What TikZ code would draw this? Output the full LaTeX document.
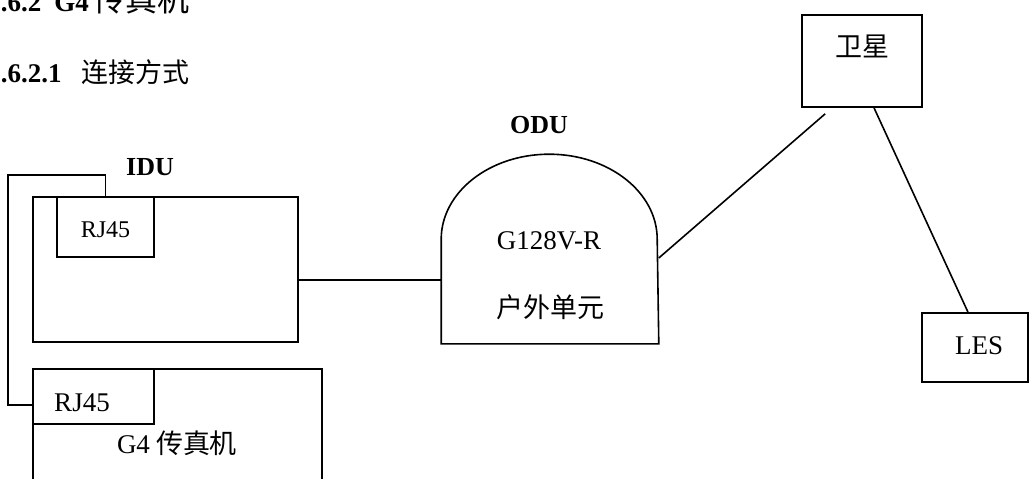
\documentclass[tikz,border=0pt]{standalone}
\usepackage{fontspec}
\setmainfont{Liberation Serif}
\newfontfamily\cjk{Noto Sans CJK SC}
\usetikzlibrary{calc}

\begin{document}
\begin{tikzpicture}[x=1pt, y=-1pt, line width=1.6pt,
  box/.style={draw, rectangle, inner sep=0pt},
  zone/.style={rectangle, inner sep=0pt},
  lbl/.style={inner sep=0pt, font=\fontsize{27}{32}\selectfont},
  small/.style={inner sep=0pt, font=\fontsize{24}{28}\selectfont},
  title/.style={inner sep=0pt, font=\fontsize{26}{32}\selectfont\bfseries},
  heading/.style={anchor=west, inner sep=0pt, font=\fontsize{27}{32}\selectfont}]
\useasboundingbox (0,0) rectangle (1029,479);
\clip (0,0) rectangle (1029,479);

% section headings
\node[heading] (h1) at (-13.5,-1) {\textbf{6.6.2}\hspace{13pt}\textbf{G4}\hspace{5pt}{\cjk\fontsize{32}{36}\selectfont 传真机}};
\node[heading] (h2) at (-13.5,72) {\textbf{6.6.2.1}\hspace{20pt}{\cjk 连接方式}};

% indoor unit with its RJ45 port
\node[box, minimum width=265pt, minimum height=145pt] (idu) at (165.5,269.5) {};
\node[box, minimum width=97pt, minimum height=60pt] (rjA) at (105.5,227) {};
\node[small] (rjAtext) at ([yshift=-2.5pt]rjA.center) {RJ45};
\node[title] (idutitle) at (150,167) {IDU};

% G4 fax machine with its RJ45 port
\node[box, minimum width=289pt, minimum height=130pt] (fax) at (177.5,434) {};
\node[box, minimum width=121pt, minimum height=55pt] (rjB) at (93.5,396.5) {};
\node[lbl] (rjBtext) at (82,402.5) {RJ45};
\node[lbl] (faxtext) at (177,443) {G4\hspace{6pt}{\cjk 传真机}};

% outdoor unit: rounded dome
\node[zone, minimum width=216pt, minimum height=188pt] (odu) at (550,249) {};
\draw (odu.south west) -- ($(odu.north west)+(0,85)$)
  arc[start angle=180, end angle=360, x radius=108, y radius=85]
  -- (odu.south east) -- cycle;
\node[title] (odutitle) at (539,125) {ODU};
\node[lbl] (odumodel) at (549,241) {G128V-R};
\node[lbl] (odutext) at (550,307) {\cjk 户外单元};

% satellite and land earth station
\node[box, minimum width=120pt, minimum height=92pt] (sat) at (862,61) {};
\node[lbl] (sattext) at (862,46) {\cjk 卫星};
\node[box, minimum width=106pt, minimum height=69pt] (les) at (975,347.5) {};
\node[lbl] (lestext) at (979,346) {LES};

% connections
\coordinate (iduport) at ([yshift=-10.5pt]idu.east);
\draw (iduport) -- (iduport -| odu.west);

\coordinate (oduport) at ([yshift=-9pt]odu.east);
\coordinate (satend) at ([xshift=24pt,yshift=-6pt]sat.south west);
\draw (oduport) -- (satend);

\draw ([xshift=12pt]sat.south) -- ([xshift=-7pt]les.north);

\coordinate (faxport) at ([yshift=-8.5pt]rjB.west);
\draw (rjA.north) -- ++(0,-21) -| ([xshift=-24pt]faxport) -- (faxport);
\end{tikzpicture}
\end{document}
